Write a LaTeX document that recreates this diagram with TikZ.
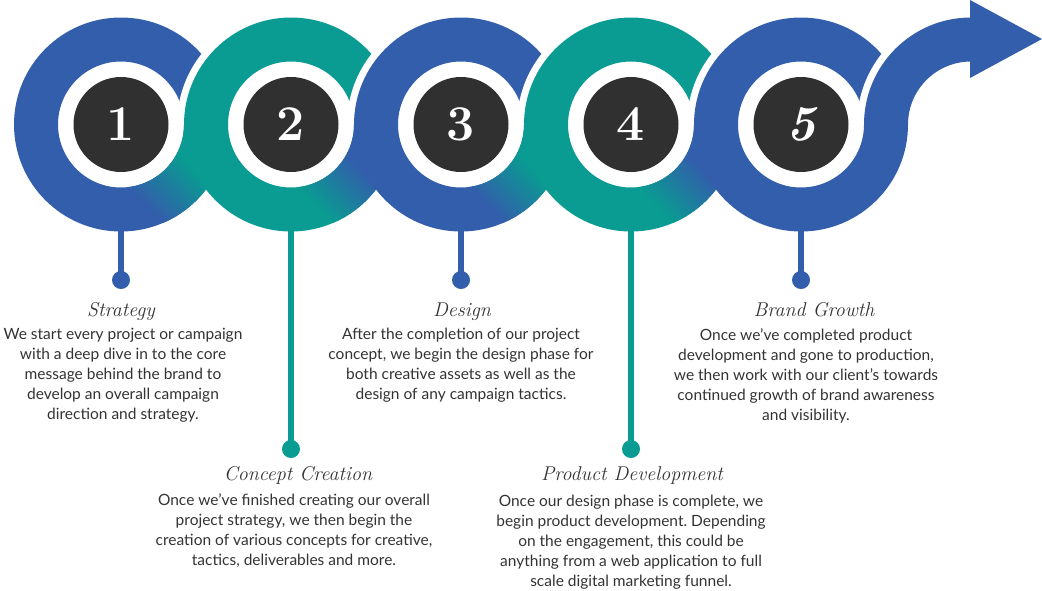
\documentclass[tikz,border=0pt]{standalone}
\usepackage{fontspec}
\newfontfamily\bodyfont{Lato}
\frenchspacing
\definecolor{blueC}{HTML}{335EAC}
\definecolor{tealC}{HTML}{0A9B92}
\definecolor{darkC}{HTML}{303030}
\definecolor{textC}{HTML}{333333}
\tikzset{
  numc/.style={circle, fill=darkC, minimum size=95pt, inner sep=0pt, text=white,
    font=\fontsize{50}{50}\selectfont\bfseries},
  dotc/.style={circle, minimum size=18pt, inner sep=0pt},
  stemline/.style={line width=5.5pt},
  ttl/.style={font=\fontsize{20}{22}\selectfont\itshape\addfontfeatures{LetterSpace=9,FakeBold=0.6},
    text=textC, inner sep=0pt, anchor=base},
  body/.style={font=\bodyfont\fontsize{15.5}{20}\selectfont, text=textC, align=center,
    inner sep=0pt, anchor=north},
}
\begin{document}
\begin{tikzpicture}[x=1pt,y=-1pt]
\useasboundingbox (0,0) rectangle (1042,590);
% rings
\foreach \i/\ca/\cb in {1/blueC/tealC, 2/tealC/blueC, 3/blueC/tealC, 4/tealC/blueC, 5/blueC/blueC} {
  \pgfmathsetmacro\cx{121+170*(\i-1)}
  \ifnum\i>1
    \begin{scope}
      \clip (\cx-120,0) rectangle (\cx+120,124.5);
      \fill[white] (\cx,124.5) circle[radius=114pt];
    \end{scope}
  \fi
  \fill[\ca, even odd rule] (\cx,124.5) circle[radius=107pt] (\cx,124.5) circle[radius=63pt];
  \ifnum\i<5
    \begin{scope}[even odd rule]
      \clip (\cx-120,124.5) rectangle (\cx+120,240);
      \clip (\cx,124.5) circle[radius=107pt] (\cx,124.5) circle[radius=63pt];
      \begin{scope}[shift={(\cx,124.5)}, rotate=45]
        \foreach \s in {0,...,29} {
          \pgfmathsetmacro\pp{-40+2*\s}
          \pgfmathsetmacro\mx{100-100*\s/29}
          \fill[\ca!\mx!\cb] (\pp,-150) rectangle (\pp+2.4,150);
        }
        \fill[\cb] (20,-150) rectangle (170,150);
      \end{scope}
    \end{scope}
  \fi
}
% arrow band
\begin{scope}
  \clip (850,0) rectangle (971,124.5);
  \fill[white] (971,124.5) circle[radius=114pt];
\end{scope}
\begin{scope}
  \clip (850,0) rectangle (971.5,124.5);
  \fill[blueC, even odd rule] (971,124.5) circle[radius=107pt] (971,124.5) circle[radius=63pt];
\end{scope}
\fill[blueC] (970,0) -- (1042,39) -- (970,78) -- cycle;
% stems and dots
\foreach \i/\c/\dy in {1/blueC/280, 2/tealC/449, 3/blueC/280, 4/tealC/449, 5/blueC/280} {
  \pgfmathsetmacro\cx{121+170*(\i-1)}
  \coordinate (b\i) at (\cx,228);
  \node[dotc, fill=\c] (d\i) at (\cx,\dy) {};
  \draw[stemline, \c] (b\i) -- (d\i.center);
}
% numbers
\node[numc] (n1) at (121,124.5) {1};
\node[numc] (n2) at (291,124.5) {2};
\node[numc] (n3) at (461,124.5) {3};
\node[numc] (n4) at (631,124.5) {4};
\node[numc] (n5) at (801,124.5) {\itshape 5};
% titles
\node[ttl] (t1) at (121,316) {Strategy};
\node[ttl] (t2) at (298,480) {Concept Creation};
\node[ttl] (t3) at (462,316) {Design};
\node[ttl] (t4) at (632,480) {Product Development};
\node[ttl] (t5) at (814,316) {Brand Growth};
% bodies
\node[body] (p1) at (123,328) {We start every project or campaign\\with a deep dive in to the core\\message behind the brand to\\develop an overall campaign\\direction and strategy.};
\node[body] (p2) at (294,493.5) {Once we’ve finished creating our overall\\project strategy, we then begin the\\creation of various concepts for creative,\\tactics, deliverables and more.};
\node[body] (p3) at (461,328) {After the completion of our project\\concept, we begin the design phase for\\both creative assets as well as the\\design of any campaign tactics.};
\node[body] (p4) at (631,495) {Once our design phase is complete, we\\begin product development. Depending\\on the engagement, this could be\\anything from a web application to full\\scale digital marketing funnel.};
\node[body] (p5) at (806,328) {Once we’ve completed product\\development and gone to production,\\we then work with our client’s towards\\continued growth of brand awareness\\and visibility.};
\end{tikzpicture}
\end{document}
